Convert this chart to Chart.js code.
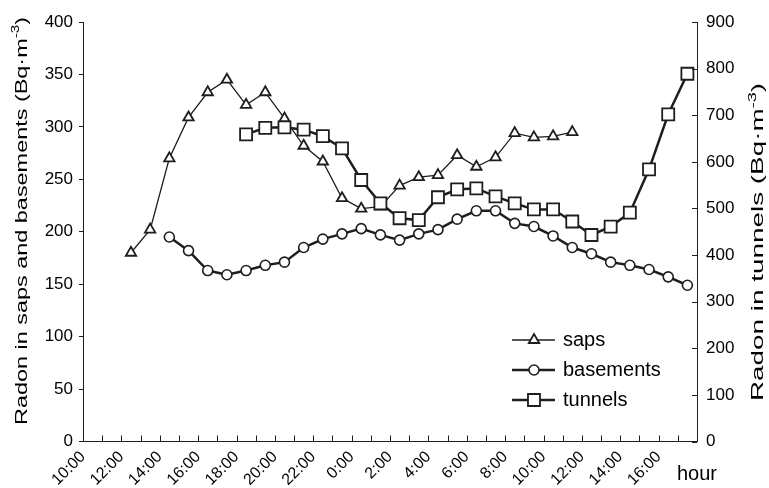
<!DOCTYPE html>
<html>
<head>
<meta charset="utf-8">
<script src="https://cdn.jsdelivr.net/npm/chart.js@4.4.0/dist/chart.umd.min.js"></script>
<style>
  body { margin: 0; background: #fff; }
  #wrap { width: 769px; height: 488px; }
</style>
</head>
<body>
<div id="wrap"><canvas id="chart" width="769" height="488"></canvas></div>
<script>
// hourly slots (hours since 0:00 of day 1), each value taken at the half hour
const hourSlots = [10.5, 11.5, 12.5, 13.5, 14.5, 15.5, 16.5, 17.5, 18.5, 19.5, 20.5, 21.5,
    22.5, 23.5, 24.5, 25.5, 26.5, 27.5, 28.5, 29.5, 30.5, 31.5, 32.5, 33.5,
    34.5, 35.5, 36.5, 37.5, 38.5, 39.5, 40.5, 41.5];

// Bq/m3, left axis
const saps = [null, null, 180, 202, 270, 309, 333, 345, 321, 333, 308, 282,
    267, 232, 222, 224, 244, 252, 254, 273, 262, 271, 294, 290,
    291, 295, null, null, null, null, null, null];
const basements = [null, null, null, null, 195, 182, 163, 159, 163, 168, 171, 185,
    193, 198, 203, 197, 192, 198, 202, 212, 220, 220, 208, 205,
    196, 185, 179, 171, 168, 164, 157, 149];
// Bq/m3, right axis
const tunnels = [null, null, null, null, null, null, null, null, 659, 673, 674, 669,
    655, 629, 561, 511, 479, 475, 524, 541, 543, 526, 511, 498,
    498, 472, 443, 461, 491, 584, 702, 789];

const xTickHours = [10, 12, 14, 16, 18, 20, 22, 24, 26, 28, 30, 32, 34, 36, 38, 40];
const leftTicks = [0, 50, 100, 150, 200, 250, 300, 350, 400];
const rightTicks = [0, 100, 200, 300, 400, 500, 600, 700, 800, 900];

const INK = '#1e1e1e';
const FONT = '"Liberation Sans", Arial, sans-serif';

const toPoints = vals => hourSlots.map((h, i) => ({ x: h, y: vals[i] }));

// inward tick marks, axis titles, unit label and legend
const decorPlugin = {
    id: 'decor',
    afterDraw(chart) {
        const ctx = chart.ctx;
        const area = chart.chartArea;
        const xs = chart.scales.x;
        const yr = chart.scales.y2;

        ctx.save();
        ctx.strokeStyle = INK;
        ctx.lineWidth = 1;
        // hourly ticks on the time axis, pointing up
        for (let h = 11; h < 42; h++) {
            const px = Math.round(xs.getPixelForValue(h)) + 0.5;
            ctx.beginPath();
            ctx.moveTo(px, area.bottom);
            ctx.lineTo(px, area.bottom - 6);
            ctx.stroke();
        }
        // right axis ticks, pointing in
        rightTicks.forEach(v => {
            const py = Math.round(yr.getPixelForValue(v)) + 0.5;
            ctx.beginPath();
            ctx.moveTo(area.right, py);
            ctx.lineTo(area.right - 5, py);
            ctx.stroke();
        });

        ctx.fillStyle = '#000';
        ctx.font = '20px ' + FONT;
        ctx.textAlign = 'left';
        ctx.textBaseline = 'alphabetic';
        ctx.fillText('hour', 677, 480);

        drawVTitle(ctx, 26.5, 425, 17, 'Radon in saps and basements (Bq\u00b7m', 16.5);
        drawVTitle(ctx, 763, 401, 83, 'Radon in tunnels (Bq\u00b7m', 16.5);

        // legend
        const items = [
            { label: 'saps', style: 'triangle', r: 6, lw: 1.3, bw: 1.8, y: 340 },
            { label: 'basements', style: 'circle', r: 5, lw: 2.5, bw: 1.6, y: 370 },
            { label: 'tunnels', style: 'rect', r: 8.5, lw: 2.5, bw: 1.8, y: 400 }
        ];
        items.forEach(it => {
            ctx.strokeStyle = INK;
            ctx.lineWidth = it.lw;
            ctx.beginPath();
            ctx.moveTo(512, it.y);
            ctx.lineTo(555, it.y);
            ctx.stroke();
            ctx.fillStyle = '#fff';
            ctx.lineWidth = it.bw;
            Chart.helpers.drawPoint(ctx, { pointStyle: it.style, radius: it.r, borderWidth: it.bw, rotation: 0 }, 534, it.y);
            ctx.fillStyle = '#000';
            ctx.font = '20px ' + FONT;
            ctx.textBaseline = 'middle';
            ctx.fillText(it.label, 563, it.y);
        });
        ctx.restore();
    }
};

// vertical title with a -3 superscript, stretched along the baseline to span yStart..yEnd
function drawVTitle(ctx, x, yStart, yEnd, main, size) {
    ctx.save();
    ctx.font = size + 'px ' + FONT;
    const w1 = ctx.measureText(main).width;
    const w3 = ctx.measureText(')').width;
    ctx.font = (size * 0.65) + 'px ' + FONT;
    const w2 = ctx.measureText('-3').width;
    const stretch = (yStart - yEnd) / (w1 + w2 + w3);
    ctx.translate(x, yStart);
    ctx.rotate(-Math.PI / 2);
    ctx.scale(stretch, 1);
    ctx.fillStyle = '#000';
    ctx.textAlign = 'left';
    ctx.textBaseline = 'alphabetic';
    ctx.font = size + 'px ' + FONT;
    ctx.fillText(main, 0, 0);
    ctx.font = (size * 0.65) + 'px ' + FONT;
    ctx.fillText('-3', w1, -size * 0.45);
    ctx.font = size + 'px ' + FONT;
    ctx.fillText(')', w1 + w2, 0);
    ctx.restore();
}

new Chart(document.getElementById('chart'), {
    type: 'line',
    data: {
        datasets: [
            {
                label: 'saps',
                data: toPoints(saps),
                yAxisID: 'y',
                order: 2,
                borderColor: INK,
                borderWidth: 1.3,
                pointStyle: 'triangle',
                pointRadius: 6,
                pointBorderWidth: 1.8,
                pointBackgroundColor: '#fff',
                pointBorderColor: INK,
                tension: 0
            },
            {
                label: 'basements',
                data: toPoints(basements),
                yAxisID: 'y',
                order: 1,
                borderColor: INK,
                borderWidth: 2.5,
                pointStyle: 'circle',
                pointRadius: 5,
                pointBorderWidth: 1.6,
                pointBackgroundColor: '#fff',
                pointBorderColor: INK,
                tension: 0
            },
            {
                label: 'tunnels',
                data: toPoints(tunnels),
                yAxisID: 'y2',
                order: 0,
                borderColor: INK,
                borderWidth: 2.5,
                pointStyle: 'rect',
                pointRadius: 8.5,
                pointBorderWidth: 1.8,
                pointBackgroundColor: '#fff',
                pointBorderColor: INK,
                tension: 0
            }
        ]
    },
    options: {
        responsive: false,
        animation: false,
        layout: { padding: { top: 22, left: 0, right: 0, bottom: 0 } },
        plugins: {
            legend: { display: false },
            tooltip: { enabled: false }
        },
        scales: {
            x: {
                type: 'linear',
                min: 10,
                max: 42,
                afterBuildTicks: scale => {
                    scale.ticks = xTickHours.map(v => ({ value: v }));
                },
                afterFit: scale => { scale.height = 46.5; },
                grid: { display: true, drawOnChartArea: false, drawTicks: false },
                border: { display: true, color: INK, width: 1 },
                ticks: {
                    autoSkip: false,
                    minRotation: 45,
                    maxRotation: 45,
                    padding: 6,
                    color: '#000',
                    font: { family: FONT, size: 16 },
                    callback: v => (v % 24) + ':00'
                }
            },
            y: {
                position: 'left',
                min: 0,
                max: 400,
                afterBuildTicks: scale => {
                    scale.ticks = leftTicks.map(v => ({ value: v }));
                },
                afterFit: scale => { scale.width = 83; },
                grid: { drawOnChartArea: false, drawTicks: true, tickLength: 4, color: INK },
                border: { display: true, color: INK, width: 1 },
                ticks: { padding: 6, color: '#000', font: { family: FONT, size: 17 } }
            },
            y2: {
                position: 'right',
                min: 0,
                max: 900,
                afterBuildTicks: scale => {
                    scale.ticks = rightTicks.map(v => ({ value: v }));
                },
                afterFit: scale => { scale.width = 72; },
                grid: { drawOnChartArea: false, drawTicks: false },
                border: { display: true, color: INK, width: 1 },
                ticks: { padding: 9, color: '#000', font: { family: FONT, size: 17 } }
            }
        }
    },
    plugins: [decorPlugin]
});
</script>
</body>
</html>
